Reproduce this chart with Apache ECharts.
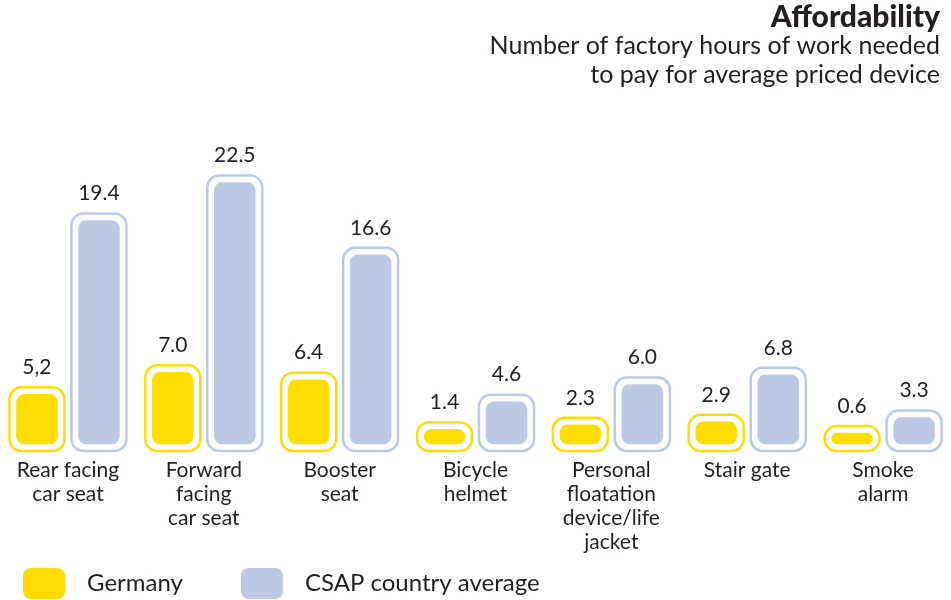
<!DOCTYPE html>
<html>
<head>
<meta charset="utf-8">
<script src="https://cdn.jsdelivr.net/npm/echarts@6/dist/echarts.min.js"></script>
<style>html,body{margin:0;padding:0;background:#fff;}#c{width:951px;height:600px;}</style>
</head>
<body>
<div id="c"></div>
<script>
const categories = ['Rear facing\ncar seat', 'Forward\nfacing\ncar seat', 'Booster\nseat', 'Bicycle\nhelmet', 'Personal\nfloatation\ndevice/life\njacket', 'Stair gate', 'Smoke\nalarm'];
const germany = [5.2, 7.0, 6.4, 1.4, 2.3, 2.9, 0.6];
const germanyLabels = ['5,2', '7.0', '6.4', '1.4', '2.3', '2.9', '0.6'];
const csap = [19.4, 22.5, 16.6, 4.6, 6.0, 6.8, 3.3];
const csapLabels = ['19.4', '22.5', '16.6', '4.6', '6.0', '6.8', '3.3'];
const seriesNames = ['Germany', 'CSAP country average'];
const titleText = 'Affordability';
const subtitleLines = ['Number of factory hours of work needed', 'to pay for average priced device'];

const YELLOW = '#FFDD00';
const BLUE = '#BCC9E5';
const TEXT = '#231F20';
const FONT = 'Lato, "Open Sans", sans-serif';

function makeRender(offset, color, labels) {
  return function (params, api) {
    const ci = api.value(0), v = api.value(1);
    const base = api.coord([ci, 0]);
    const topPt = api.coord([ci, v]);
    let h = base[1] - topPt[1];
    h = Math.max(h, 22 + 0.4 * h);
    const cx = base[0] + offset;
    const W = 55;
    const x = cx - W / 2, y = base[1] - h;
    const ih = h - 13.5, iw = W - 13.5;
    return {
      type: 'group',
      children: [
        { type: 'rect', shape: { x: x, y: y, width: W, height: h, r: Math.min(12, h / 2) },
          style: { fill: '#fff', stroke: color, lineWidth: 2.5 } },
        { type: 'rect', shape: { x: x + 6.75, y: y + 6.75, width: iw, height: ih, r: Math.min(8, ih / 2) },
          style: { fill: color } },
        { type: 'text', style: { text: labels[params.dataIndex], x: cx, y: y - 20, align: 'center', verticalAlign: 'middle',
          font: '21px ' + FONT, fill: TEXT } }
      ]
    };
  };
}

const chart = echarts.init(document.getElementById('c'), null, { renderer: 'canvas' });
chart.setOption({
  animation: false,
  backgroundColor: '#fff',
  graphic: [
    { type: 'text', right: 11, top: 2, style: { text: titleText, font: '900 30px ' + FONT, fill: TEXT } },
    { type: 'text', right: 11, top: 33, style: { text: subtitleLines[0], font: '25px ' + FONT, fill: TEXT } },
    { type: 'text', right: 11, top: 62, style: { text: subtitleLines[1], font: '25px ' + FONT, fill: TEXT } }
  ],
  legend: {
    left: 18, top: 563, itemWidth: 42, itemHeight: 31, itemGap: 58,
    icon: 'roundRect',
    data: seriesNames.map((n, i) => ({ name: n, itemStyle: { color: i === 0 ? YELLOW : BLUE } })),
    textStyle: { fontFamily: FONT, fontSize: 24, color: TEXT, padding: [0, 0, 0, 17] }
  },
  grid: { left: 0, right: 0, top: 145, bottom: 149 },
  xAxis: {
    type: 'category', data: categories,
    axisLine: { show: false }, axisTick: { show: false },
    axisLabel: { interval: 0, margin: 7, fontFamily: FONT, fontSize: 21, lineHeight: 24, color: TEXT, verticalAlign: 'top' }
  },
  yAxis: { type: 'value', min: 0, max: 25, show: false },
  series: [
    { name: seriesNames[0], type: 'custom', itemStyle: { color: YELLOW },
      renderItem: makeRender(-31, YELLOW, germanyLabels),
      data: germany.map((v, i) => [i, v]) },
    { name: seriesNames[1], type: 'custom', itemStyle: { color: BLUE },
      renderItem: makeRender(31, BLUE, csapLabels),
      data: csap.map((v, i) => [i, v]) }
  ]
});
</script>
</body>
</html>
